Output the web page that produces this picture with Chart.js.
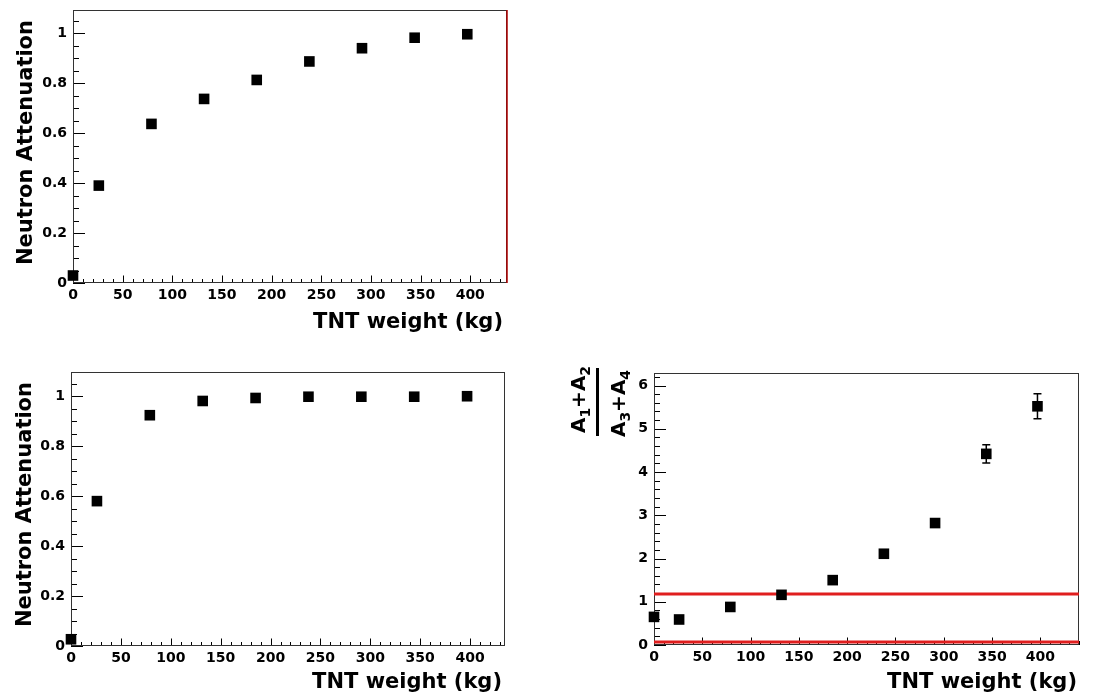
<!DOCTYPE html>
<html>
<head>
<meta charset="utf-8">
<script src="https://cdn.jsdelivr.net/npm/chart.js@4.4.0/dist/chart.umd.min.js"></script>
<style>
  html, body { margin: 0; padding: 0; background: #fff; }
  body { width: 1093px; height: 697px; position: relative; overflow: hidden; }
  canvas { position: absolute; }
</style>
</head>
<body>
<canvas id="topChart" width="546" height="345" style="left:0;top:0"></canvas>
<canvas id="bottomChart" width="546" height="337" style="left:0;top:360px"></canvas>
<canvas id="ratioChart" width="547" height="337" style="left:546px;top:360px"></canvas>
<script>
// Datos
const tntWeight = [0, 26, 79, 132, 185, 238, 291, 344, 397];
const attenuationTop = [0.03, 0.39, 0.637, 0.737, 0.813, 0.887, 0.94, 0.982, 0.996];
const attenuationBottom = [0.027, 0.58, 0.924, 0.981, 0.993, 0.998, 0.998, 0.998, 1.0];
const ratioValues = [0.65, 0.59, 0.88, 1.16, 1.5, 2.11, 2.82, 4.42, 5.52];
const ratioErrors = [0.03, 0.03, 0.03, 0.04, 0.05, 0.06, 0.09, 0.21, 0.29];
const ratioCuts = [1.18, 0.07];
const topCutWeight = 437;

// Etiquetas de los ejes
const xTickValues = [0, 50, 100, 150, 200, 250, 300, 350, 400];
const attenTickValues = [0, 0.2, 0.4, 0.6, 0.8, 1];
const ratioTickValues = [0, 1, 2, 3, 4, 5, 6];

Chart.defaults.font.family = 'DejaVu Sans';
Chart.defaults.color = '#000';

const BOLD = 'bold 21px "DejaVu Sans"';

// Marco, marcas interiores (estilo ROOT), titulos y barras de error
const rootFrame = {
    id: 'rootFrame',
    beforeDatasetsDraw(chart, args, o) {
        const { ctx, chartArea: a, scales: { x, y } } = chart;
        ctx.save();
        ctx.strokeStyle = '#000';
        ctx.lineWidth = 1;
        ctx.beginPath();
        // eje x
        let n = Math.floor(x.max / o.xMinor + 1e-6);
        for (let i = 0; i <= n; i++) {
            const v = i * o.xMinor;
            const major = Math.abs(v / o.xMajor - Math.round(v / o.xMajor)) < 1e-6;
            const px = Math.round(x.getPixelForValue(v)) + 0.5;
            ctx.moveTo(px, a.bottom);
            ctx.lineTo(px, a.bottom - (major ? 7.5 : 4));
        }
        // eje y
        n = Math.floor(y.max / o.yMinor + 1e-6);
        for (let i = 0; i <= n; i++) {
            const v = i * o.yMinor;
            const major = Math.abs(v / o.yMajor - Math.round(v / o.yMajor)) < 1e-6;
            const py = Math.round(y.getPixelForValue(v)) + 0.5;
            ctx.moveTo(a.left, py);
            ctx.lineTo(a.left + (major ? 12 : 6), py);
        }
        ctx.stroke();
        ctx.strokeStyle = '#333';
        ctx.strokeRect(a.left + 0.5, a.top + 0.5, a.right - a.left - 1, a.bottom - a.top - 1);
        ctx.restore();
    },
    afterDatasetsDraw(chart, args, o) {
        const { ctx, scales: { x, y } } = chart;
        ctx.save();
        ctx.fillStyle = '#000';
        ctx.strokeStyle = '#000';

        // barras de error
        if (o.errors) {
            ctx.lineWidth = 1.5;
            ctx.beginPath();
            o.errors.forEach((e, i) => {
                const px = x.getPixelForValue(o.errX[i]);
                const y1 = y.getPixelForValue(o.errY[i] - e);
                const y2 = y.getPixelForValue(o.errY[i] + e);
                ctx.moveTo(px, y1); ctx.lineTo(px, y2);
                ctx.moveTo(px - 4, y1); ctx.lineTo(px + 4, y1);
                ctx.moveTo(px - 4, y2); ctx.lineTo(px + 4, y2);
            });
            ctx.stroke();
        }

        // titulo eje x
        ctx.font = BOLD;
        ctx.textAlign = 'right';
        ctx.textBaseline = 'alphabetic';
        ctx.fillText(o.xTitle, o.xTitlePos[0], o.xTitlePos[1]);

        // titulo eje y
        if (o.yTitle) {
            ctx.save();
            ctx.translate(o.yTitlePos[0], o.yTitlePos[1]);
            ctx.rotate(-Math.PI / 2);
            ctx.fillText(o.yTitle, 0, 0);
            ctx.restore();
        }
        if (o.fraction) drawFraction(ctx, o.fraction);
        ctx.restore();
    }
};

// (A1+A2)/(A3+A4) girado
function drawFraction(ctx, f) {
    const parts = (txt) => [
        { t: 'A' }, { t: txt[0], sub: true }, { t: '+' }, { t: 'A' }, { t: txt[1], sub: true }
    ];
    const big = 'bold 20px "DejaVu Sans"';
    const small = 'bold 14px "DejaVu Sans"';
    function line(items, v, du) {
        let w = 0;
        items.forEach(p => { ctx.font = p.sub ? small : big; w += ctx.measureText(p.t).width; });
        let u = -w / 2 + du;
        ctx.textAlign = 'left';
        items.forEach(p => {
            ctx.font = p.sub ? small : big;
            ctx.fillText(p.t, u, p.sub ? v + 5 : v);
            u += ctx.measureText(p.t).width;
        });
    }
    ctx.save();
    ctx.translate(f.cx, f.cy);
    ctx.rotate(-Math.PI / 2);
    ctx.fillRect(-34, -1.5, 68, 3);
    line(parts(['1', '2']), -12.5, 2.5);
    line(parts(['3', '4']), 27.5, -1.5);
    ctx.restore();
}

function fmt(v) {
    return String(Math.round(v * 100) / 100);
}

function makePanel(id, cfg) {
    const canvas = document.getElementById(id);
    const W = canvas.width, H = canvas.height;
    return new Chart(canvas.getContext('2d'), {
        type: 'scatter',
        data: { datasets: cfg.datasets },
        options: {
            responsive: false,
            animation: false,
            events: [],
            layout: { padding: { left: 0, top: cfg.area.top, right: W - cfg.area.right, bottom: 0 } },
            plugins: {
                legend: { display: false },
                tooltip: { enabled: false },
                rootFrame: cfg.frame
            },
            scales: {
                x: {
                    type: 'linear',
                    min: 0,
                    max: cfg.xMax,
                    grid: { display: false, drawTicks: false },
                    border: { display: false },
                    afterBuildTicks: s => { s.ticks = xTickValues.map(v => ({ value: v })); },
                    ticks: {
                        autoSkip: false, maxRotation: 0, padding: 4,
                        font: { size: 14, weight: 'bold' },
                        callback: v => fmt(v)
                    },
                    afterFit: s => {
                        s.height = H - cfg.area.bottom;
                        s.paddingLeft = 0; s.paddingRight = 0; s.paddingTop = 0; s.paddingBottom = 0;
                    }
                },
                y: {
                    type: 'linear',
                    min: 0,
                    max: cfg.yMax,
                    grid: { display: false, drawTicks: false },
                    border: { display: false },
                    afterBuildTicks: s => { s.ticks = cfg.yTicks.map(v => ({ value: v })); },
                    ticks: {
                        autoSkip: false, padding: 6,
                        font: { size: 14, weight: 'bold' },
                        callback: v => fmt(v)
                    },
                    afterFit: s => {
                        s.width = cfg.area.left;
                        s.paddingLeft = 0; s.paddingRight = 0; s.paddingTop = 0; s.paddingBottom = 0;
                    }
                }
            }
        },
        plugins: [rootFrame]
    });
}

function markers(values) {
    return {
        data: tntWeight.map((w, i) => ({ x: w, y: values[i] })),
        pointStyle: 'rect',
        pointRadius: 7.5,
        backgroundColor: '#000',
        borderColor: '#000',
        borderWidth: 0,
        showLine: false,
        clip: false,
        order: 0
    };
}

// Panel superior izquierdo
makePanel('topChart', {
    area: { left: 73, right: 507, top: 10, bottom: 283 },
    xMax: 437, yMax: 1.093, yTicks: attenTickValues,
    datasets: [
        markers(attenuationTop),
        {
            data: [{ x: topCutWeight, y: 0 }, { x: topCutWeight, y: 1.093 }],
            showLine: true, borderColor: '#b00000', borderWidth: 1.5,
            pointRadius: 0, order: 1, clip: false
        }
    ],
    frame: {
        xMinor: 10, xMajor: 50, yMinor: 0.05, yMajor: 0.2,
        xTitle: 'TNT weight (kg)', xTitlePos: [503, 328],
        yTitle: 'Neutron Attenuation', yTitlePos: [31.5, 20]
    }
});

// Panel inferior izquierdo
makePanel('bottomChart', {
    area: { left: 71, right: 505, top: 12, bottom: 286 },
    xMax: 435, yMax: 1.097, yTicks: attenTickValues,
    datasets: [markers(attenuationBottom)],
    frame: {
        xMinor: 10, xMajor: 50, yMinor: 0.05, yMajor: 0.2,
        xTitle: 'TNT weight (kg)', xTitlePos: [502, 328],
        yTitle: 'Neutron Attenuation', yTitlePos: [31, 22]
    }
});

// Panel inferior derecho (cociente)
makePanel('ratioChart', {
    area: { left: 108, right: 533, top: 13, bottom: 285 },
    xMax: 440, yMax: 6.29, yTicks: ratioTickValues,
    datasets: [markers(ratioValues)].concat(ratioCuts.map(c => ({
        data: [{ x: 0, y: c }, { x: 440, y: c }],
        showLine: true, borderColor: '#e01e1e', borderWidth: 3,
        pointRadius: 0, order: 1
    }))),
    frame: {
        xMinor: 10, xMajor: 50, yMinor: 0.2, yMajor: 1,
        xTitle: 'TNT weight (kg)', xTitlePos: [531, 328],
        errors: ratioErrors, errX: tntWeight, errY: ratioValues,
        fraction: { cx: 51.5, cy: 42 }
    }
});
</script>
</body>
</html>
